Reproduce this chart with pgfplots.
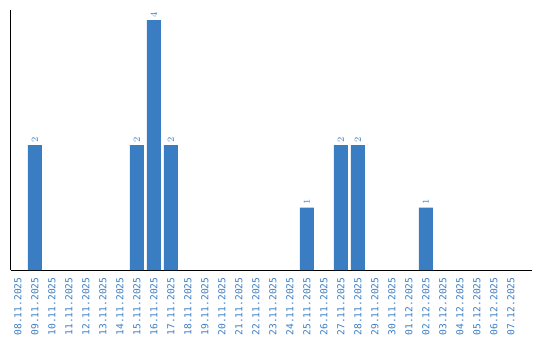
\documentclass[border=0pt]{standalone}
\usepackage{fontspec}
\setmainfont{DejaVu Sans Mono}
\usepackage{pgfplots}
\pgfplotsset{compat=1.18}
\definecolor{barblue}{RGB}{58,125,194}
\begin{document}
\begin{tikzpicture}
\begin{axis}[
  at={(0,0)}, anchor=south west,
  scale only axis,
  width=390.75pt, height=195pt,
  xmin=-0.41, xmax=30.24,
  ymin=0, ymax=4.16,
  axis x line=bottom, axis y line=left,
  axis line style={-, line width=0.75pt, black},
  ytick=\empty,
  xtick={0,...,29},
  xticklabels={08.11.2025,09.11.2025,10.11.2025,11.11.2025,12.11.2025,13.11.2025,14.11.2025,15.11.2025,16.11.2025,17.11.2025,18.11.2025,19.11.2025,20.11.2025,21.11.2025,22.11.2025,23.11.2025,24.11.2025,25.11.2025,26.11.2025,27.11.2025,28.11.2025,29.11.2025,30.11.2025,01.12.2025,02.12.2025,03.12.2025,04.12.2025,05.12.2025,06.12.2025,07.12.2025},
  x tick label style={rotate=90, anchor=east, font=\fontsize{7.2}{8}\selectfont, text=barblue, inner sep=1pt, xshift=-4.5pt},
  major tick length=0pt,
  ybar, bar width=10.5pt,
  nodes near coords,
  every node near coord/.append style={rotate=90, anchor=west, font=\fontsize{7.4}{8}\selectfont, text=barblue, inner sep=1pt, xshift=1pt},
  clip=false,
]
\addplot[fill=barblue, draw=none] coordinates {(1,2) (7,2) (8,4) (9,2) (17,1) (19,2) (20,2) (24,1)};
\end{axis}
\useasboundingbox (-8.25pt,-52.5pt) rectangle (396.75pt,202.5pt);
\end{tikzpicture}
\end{document}
